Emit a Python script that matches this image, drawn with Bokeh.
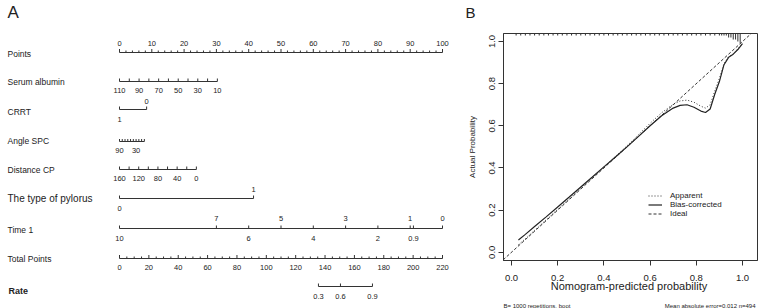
from bokeh.plotting import figure
from bokeh.models import Range1d, Legend, LegendItem, FixedTicker, PrintfTickFormatter
from bokeh.layouts import row, column
from bokeh.embed import file_html
from bokeh.resources import INLINE
from bokeh.core.properties import value

FONT = "Liberation Sans"
INK = "#222222"

# ---------------- Nomogram data (panel A) ----------------
points_labels = [0, 10, 20, 30, 40, 50, 60, 70, 80, 90, 100]
points_minor = [0, 2, 4, 6, 8, 10, 12, 14, 16, 18, 20, 22, 24, 26, 28, 30, 32, 34, 36, 38, 40,
                42, 44, 46, 48, 50, 52, 54, 56, 58, 60, 62, 64, 66, 68, 70, 72, 74, 76, 78, 80,
                82, 84, 86, 88, 90, 92, 94, 96, 98, 100]

alb_ticks = [110, 100, 90, 80, 70, 60, 50, 40, 30, 20, 10]
alb_labels = [110, 90, 70, 50, 30, 10]
alb_points_at_10 = 30.3          # points given for albumin = 10 (0 points at 110)

crrt_values = [1, 0]
crrt_points = [0.0, 8.4]

angle_ticks = [90, 80, 70, 60, 50, 40, 30, 20, 10, 0]
angle_labels = [90, 30]
angle_points_at_0 = 7.7          # points for angle = 0 (0 points at 90)

dist_ticks = [160, 140, 120, 100, 80, 60, 40, 20, 0]
dist_labels = [160, 120, 80, 40, 0]
dist_points_at_0 = 23.8          # points for distance = 0 (0 points at 160)

pylorus_values = [0, 1]
pylorus_points = [0.0, 41.5]

time_above = [7, 5, 3, 1, 0]
time_below = [10, 6, 4, 2, 0.9]
time_points_per_unit = 10.0      # 0 points at time 10, 100 points at time 0

total_labels = [0, 20, 40, 60, 80, 100, 120, 140, 160, 180, 200, 220]
total_minor = [0, 5, 10, 15, 20, 25, 30, 35, 40, 45, 50, 55, 60, 65, 70, 75, 80, 85, 90, 95,
               100, 105, 110, 115, 120, 125, 130, 135, 140, 145, 150, 155, 160, 165, 170, 175,
               180, 185, 190, 195, 200, 205, 210, 215, 220]
total_max = 220

rate_values = [0.3, 0.6, 0.9]
rate_total_points = [135.5, 150.5, 172.3]

var_names = ["Points", "Serum albumin", "CRRT", "Angle SPC", "Distance CP",
             "The type of pylorus", "Time 1", "Total Points", "Rate"]

# ---------------- Calibration data (panel B) ----------------
cal_x = [0.03, 0.06, 0.10, 0.15, 0.20, 0.25, 0.30, 0.35, 0.40, 0.45, 0.50, 0.55, 0.60, 0.65,
         0.70, 0.73, 0.76, 0.79, 0.82, 0.84, 0.86, 0.88, 0.90, 0.92, 0.94, 0.96, 0.98, 1.00]
apparent_y = [0.036, 0.064, 0.104, 0.154, 0.204, 0.254, 0.305, 0.355, 0.405, 0.455, 0.505,
              0.558, 0.612, 0.662, 0.702, 0.718, 0.722, 0.712, 0.693, 0.684, 0.700, 0.765,
              0.825, 0.895, 0.928, 0.942, 0.965, 0.993]
bias_y = [0.058, 0.085, 0.122, 0.168, 0.215, 0.262, 0.310, 0.357, 0.405, 0.452, 0.500,
          0.550, 0.600, 0.648, 0.684, 0.697, 0.700, 0.688, 0.670, 0.663, 0.680, 0.750,
          0.810, 0.890, 0.925, 0.940, 0.962, 0.990]
ideal_x = [-0.1, 1.2]
ideal_y = [-0.1, 1.2]

rug_x = [0.02, 0.04, 0.06, 0.08, 0.10, 0.12, 0.14, 0.16, 0.18, 0.20, 0.22, 0.24, 0.26, 0.28,
         0.30, 0.32, 0.34, 0.36, 0.38, 0.40, 0.42, 0.44, 0.46, 0.48, 0.50, 0.52, 0.54, 0.56,
         0.58, 0.60, 0.62, 0.64, 0.66, 0.68, 0.70, 0.72, 0.74, 0.76, 0.78, 0.80, 0.82, 0.84,
         0.86, 0.88, 0.90, 0.91, 0.92, 0.93, 0.94, 0.95, 0.96, 0.97, 0.98, 0.99]
rug_count = [1, 1, 1, 1, 1, 1, 1, 1, 1, 1, 1, 1, 1, 1,
             1, 1, 1, 1, 1, 1, 1, 1, 1, 1, 1, 1, 1, 1,
             1, 1, 1, 1, 1, 1, 1, 1, 1, 1, 1, 1, 1, 1,
             1, 1, 1, 1, 1, 1, 2, 2, 3, 3, 4, 5]

x_ticks = [0.0, 0.2, 0.4, 0.6, 0.8, 1.0]
y_ticks = [0.0, 0.2, 0.4, 0.6, 0.8, 1.0]

footer_left = "B= 1000 repetitions, boot"
footer_right = "Mean absolute error=0.012 n=494"

# ====================== Panel A ======================
W_L, H = 455, 308
PX_PER_PT = 3.23
X0 = 119
pL = figure(width=W_L, height=H, output_backend="svg", toolbar_location=None,
            x_range=Range1d(-X0 / PX_PER_PT, (W_L - X0) / PX_PER_PT),
            y_range=Range1d(H, 0), x_axis_type=None, y_axis_type=None,
            min_border=0, outline_line_color=None)
pL.grid.visible = False
pL.frame_align = False


def txt(p, xs, ys, labels, size="7.5px", align="center", style="normal"):
    p.text(x=xs, y=ys, text=[str(t) for t in labels], text_font=value(FONT),
           text_font_size=value(size), text_align=align, text_baseline="middle",
           text_color=INK, text_font_style=style)


def scale(y, pts, tick_len):
    pL.segment(x0=[min(pts)], y0=[y], x1=[max(pts)], y1=[y], line_color="#333333", line_width=1)
    pL.segment(x0=pts, y0=[y] * len(pts), x1=pts, y1=[y - l for l in tick_len],
               line_color="#333333", line_width=1)


# rows (vertical layout positions)
ROW = dict(points=52, alb=81, crrt=109, angle=141, dist=169, pyl=198, time=228, total=258, rate=286)

# Points
scale(ROW["points"], points_minor, [3.5 if v % 10 == 0 else 2 for v in points_minor])
txt(pL, points_labels, [ROW["points"] - 9] * len(points_labels), points_labels)

# Serum albumin
alb_pts = lambda v: (110 - v) / 100.0 * alb_points_at_10
scale(ROW["alb"], [alb_pts(v) for v in alb_ticks], [3] * len(alb_ticks))
txt(pL, [alb_pts(v) for v in alb_labels], [ROW["alb"] + 9] * len(alb_labels), alb_labels)

# CRRT
scale(ROW["crrt"], crrt_points, [3, 3])
txt(pL, [crrt_points[1]], [ROW["crrt"] - 8], [crrt_values[1]])
txt(pL, [crrt_points[0]], [ROW["crrt"] + 10], [crrt_values[0]])

# Angle SPC
ang_pts = lambda v: (90 - v) / 90.0 * angle_points_at_0
scale(ROW["angle"], [ang_pts(v) for v in angle_ticks], [2.5] * len(angle_ticks))
txt(pL, [ang_pts(v) for v in angle_labels], [ROW["angle"] + 8.5] * len(angle_labels), angle_labels)

# Distance CP
dist_pts = lambda v: (160 - v) / 160.0 * dist_points_at_0
scale(ROW["dist"], [dist_pts(v) for v in dist_ticks], [3] * len(dist_ticks))
txt(pL, [dist_pts(v) for v in dist_labels], [ROW["dist"] + 9] * len(dist_labels), dist_labels)

# The type of pylorus
scale(ROW["pyl"], pylorus_points, [3, 3])
txt(pL, [pylorus_points[1]], [ROW["pyl"] - 9], [pylorus_values[1]])
txt(pL, [pylorus_points[0]], [ROW["pyl"] + 10], [pylorus_values[0]])

# Time 1
time_pts = lambda v: (10 - v) * time_points_per_unit
all_time = sorted(set(time_above + time_below), reverse=True)
scale(ROW["time"], [time_pts(v) for v in all_time], [3] * len(all_time))
txt(pL, [time_pts(v) for v in time_above], [ROW["time"] - 10] * len(time_above), time_above)
txt(pL, [time_pts(v) for v in time_below], [ROW["time"] + 10] * len(time_below), time_below)

# Total Points
tot_pts = lambda v: v / total_max * 100.0
scale(ROW["total"], [tot_pts(v) for v in total_minor],
      [3.5 if v % 20 == 0 else 2 for v in total_minor])
txt(pL, [tot_pts(v) for v in total_labels], [ROW["total"] + 9] * len(total_labels), total_labels)

# Rate
scale(ROW["rate"], [tot_pts(v) for v in rate_total_points], [3] * len(rate_total_points))
txt(pL, [tot_pts(v) for v in rate_total_points], [ROW["rate"] + 10] * len(rate_values), rate_values)

# Variable names
name_x = -X0 / PX_PER_PT + 7 / PX_PER_PT
name_y = [53, 81, 111, 140, 169, 198, 229, 258, 290]
for nm, yy in zip(var_names, name_y):
    if nm == "The type of pylorus":
        txt(pL, [name_x], [yy], [nm], size="10px", align="left")
    elif nm == "Rate":
        txt(pL, [name_x + 1 / PX_PER_PT], [yy], [nm], size="9px", align="left", style="bold")
    else:
        txt(pL, [name_x], [yy], [nm], size="8.5px", align="left")

# Panel letter
txt(pL, [name_x], [12], ["A"], size="17px", align="left")

# ====================== Panel B ======================
W_R = 307
HEAD_H, FOOT_H = 25, 10
FRAME_TOP, FRAME_H = 33, 227
pHead = figure(width=W_R, height=HEAD_H, output_backend="svg", toolbar_location=None,
               x_range=Range1d(0, W_R), y_range=Range1d(HEAD_H, 0),
               x_axis_type=None, y_axis_type=None, min_border=0, outline_line_color=None)
pHead.grid.visible = False
pHead.frame_align = False
txt(pHead, [15], [12], ["B"], size="15px", align="center")

R_H = H - HEAD_H - FOOT_H
pR = figure(width=W_R, height=R_H, output_backend="svg", toolbar_location=None,
            x_range=Range1d(-0.0346, 1.065), y_range=Range1d(-0.039, 1.038),
            min_border_left=48, min_border_right=5, min_border_top=FRAME_TOP - HEAD_H,
            min_border_bottom=R_H - (FRAME_TOP - HEAD_H) - FRAME_H)
pR.grid.visible = False
pR.frame_align = False
pR.outline_line_color = "#333333"
pR.outline_line_width = 1
pR.background_fill_color = "white"

r_ideal = pR.line(ideal_x, ideal_y, line_color="#333333", line_width=1, line_dash="3 2")
r_bias = pR.line(cal_x, bias_y, line_color="#222222", line_width=1.2)
r_app = pR.line(cal_x, apparent_y, line_color="#333333", line_width=1, line_dash="1 2")

top = 1.038
unit_len = 2.0 / 210.7
pR.segment(x0=rug_x, y0=[top] * len(rug_x), x1=rug_x,
           y1=[top - c * unit_len for c in rug_count], line_color="#333333", line_width=1)

for ax in (pR.xaxis[0], pR.yaxis[0]):
    ax.minor_tick_line_color = None
    ax.major_tick_in = 0
    ax.major_tick_out = 5
    ax.axis_line_color = "#333333"
    ax.major_tick_line_color = "#333333"
    ax.major_label_text_font = FONT
    ax.major_label_text_font_size = "9.5px"
    ax.major_label_text_color = INK
    ax.formatter = PrintfTickFormatter(format="%.1f")
    ax.axis_label_text_font = FONT
    ax.axis_label_text_font_style = "normal"
    ax.axis_label_text_color = INK

pR.xaxis.ticker = FixedTicker(ticks=x_ticks)
pR.yaxis.ticker = FixedTicker(ticks=y_ticks)
pR.xaxis.major_label_standoff = 9
pR.xaxis.axis_label = "Nomogram-predicted  probability"
pR.xaxis.axis_label_text_font_size = "11px"
pR.xaxis.axis_label_standoff = -4
pR.yaxis.major_label_orientation = "vertical"
pR.yaxis.major_label_standoff = 3
pR.yaxis.axis_label = "Actual Probability"
pR.yaxis.axis_label_text_font_size = "8px"
pR.yaxis.axis_label_standoff = 10

legend = Legend(items=[LegendItem(label="Apparent", renderers=[r_app]),
                       LegendItem(label="Bias-corrected", renderers=[r_bias]),
                       LegendItem(label="Ideal", renderers=[r_ideal])],
                location=(145, 42), padding=0, margin=0, spacing=0,
                label_height=9, glyph_height=9, glyph_width=14, label_standoff=8,
                label_text_font=FONT, label_text_font_size="8px", label_text_color=INK,
                background_fill_alpha=0, border_line_color=None)
pR.add_layout(legend)

pFoot = figure(width=W_R, height=FOOT_H, output_backend="svg", toolbar_location=None,
               x_range=Range1d(0, W_R), y_range=Range1d(FOOT_H, 0),
               x_axis_type=None, y_axis_type=None, min_border=0, outline_line_color=None)
pFoot.grid.visible = False
pFoot.frame_align = False
txt(pFoot, [48], [5], [footer_left], size="6px", align="left")
txt(pFoot, [300], [5], [footer_right], size="6px", align="right")

layout = row(pL, column(pHead, pR, pFoot))
open("out.html", "w").write(file_html(layout, INLINE))
